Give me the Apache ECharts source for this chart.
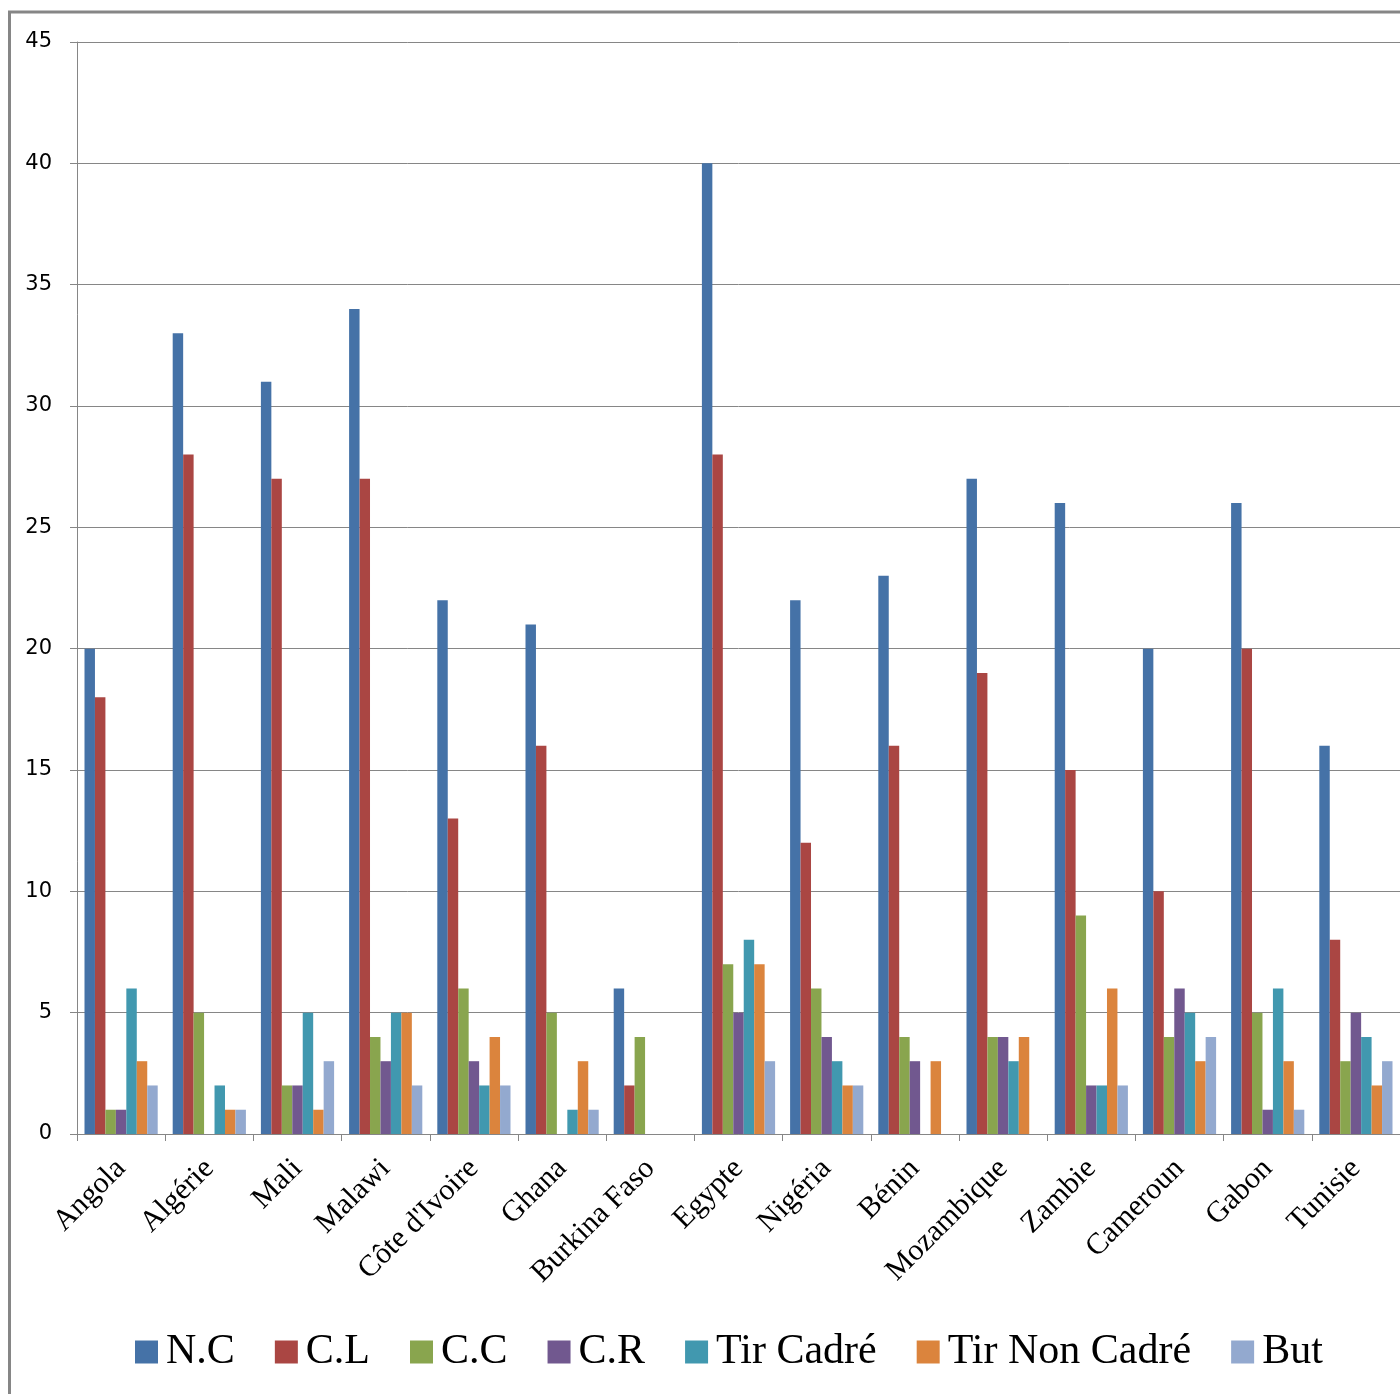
<!DOCTYPE html>
<html>
<head>
<meta charset="utf-8">
<script src="https://cdn.jsdelivr.net/npm/echarts@6/dist/echarts.min.js"></script>
<style>
  html, body { margin: 0; padding: 0; background: #ffffff; }
  #chart { width: 1400px; height: 1394px; }
</style>
</head>
<body>
<div id="chart"></div>
<script>
// Match statistics per team
const categories = ['Angola', 'Algérie', 'Mali', 'Malawi', "Côte d'Ivoire", 'Ghana', 'Burkina Faso',
  'Egypte', 'Nigéria', 'Bénin', 'Mozambique', 'Zambie', 'Cameroun', 'Gabon', 'Tunisie'];

const nc          = [20, 33, 31, 34, 22, 21, 6, 40, 22, 23, 27, 26, 20, 26, 16];
const cl          = [18, 28, 27, 27, 13, 16, 2, 28, 12, 16, 19, 15, 10, 20, 8];
const cc          = [1, 5, 2, 4, 6, 5, 4, 7, 6, 4, 4, 9, 4, 5, 3];
const cr          = [1, 0, 2, 3, 3, 0, 0, 5, 4, 3, 4, 2, 6, 1, 5];
const tirCadre    = [6, 2, 5, 5, 2, 1, 0, 8, 3, 0, 3, 2, 5, 6, 4];
const tirNonCadre = [3, 1, 1, 5, 4, 3, 0, 7, 2, 3, 4, 6, 3, 3, 2];
const but         = [2, 1, 3, 2, 2, 1, 0, 3, 2, 0, 0, 2, 4, 1, 3];

const yTicks = { min: 0, max: 45, interval: 5 };

const seriesDefs = [
  { name: 'N.C', data: nc, color: '#4572A7' },
  { name: 'C.L', data: cl, color: '#AA4643' },
  { name: 'C.C', data: cc, color: '#89A54E' },
  { name: 'C.R', data: cr, color: '#71588F' },
  { name: 'Tir Cadré', data: tirCadre, color: '#4198AF' },
  { name: 'Tir Non Cadré', data: tirNonCadre, color: '#DB843D' },
  { name: 'But', data: but, color: '#93A9CF' }
];

const gray = '#868686';
const chart = echarts.init(document.getElementById('chart'), null, { renderer: 'canvas' });

chart.setOption({
  animation: false,
  backgroundColor: '#ffffff',
  graphic: [{
    type: 'rect',
    shape: { x: 9.5, y: 12, width: 1600, height: 1600 },
    style: { fill: 'none', stroke: gray, lineWidth: 3 },
    silent: true,
    z: 100
  }],
  grid: { left: 77, top: 42, right: -1, bottom: 260, containLabel: false },
  legend: {
    data: seriesDefs.map(s => s.name),
    left: 135,
    top: 1331,
    padding: 0,
    icon: 'rect',
    itemWidth: 23,
    itemHeight: 23,
    itemGap: 40,
    textStyle: { fontFamily: 'Liberation Serif', fontSize: 42, color: '#000', padding: [0, 0, 0, 3] }
  },
  xAxis: {
    type: 'category',
    data: categories,
    boundaryGap: true,
    axisLine: { show: true, lineStyle: { color: gray, width: 1 } },
    axisTick: { show: true, length: 7, alignWithLabel: false, lineStyle: { color: gray } },
    axisLabel: {
      interval: 0,
      rotate: 45,
      margin: 30,
      fontFamily: 'Liberation Serif',
      fontSize: 30,
      color: '#000'
    },
    splitLine: { show: false }
  },
  yAxis: {
    type: 'value',
    min: yTicks.min,
    max: yTicks.max,
    interval: yTicks.interval,
    axisLine: { show: true, lineStyle: { color: gray, width: 1 } },
    axisTick: { show: true, length: 7, lineStyle: { color: gray } },
    axisLabel: { fontFamily: 'DejaVu Sans', fontSize: 21, color: '#000', margin: 25 },
    splitLine: { show: true, lineStyle: { color: gray, width: 1 } }
  },
  series: seriesDefs.map(s => ({
    name: s.name,
    type: 'bar',
    data: s.data,
    barGap: '0%',
    barCategoryGap: '17%',
    itemStyle: { color: s.color },
    emphasis: { disabled: true }
  }))
});
</script>
</body>
</html>
